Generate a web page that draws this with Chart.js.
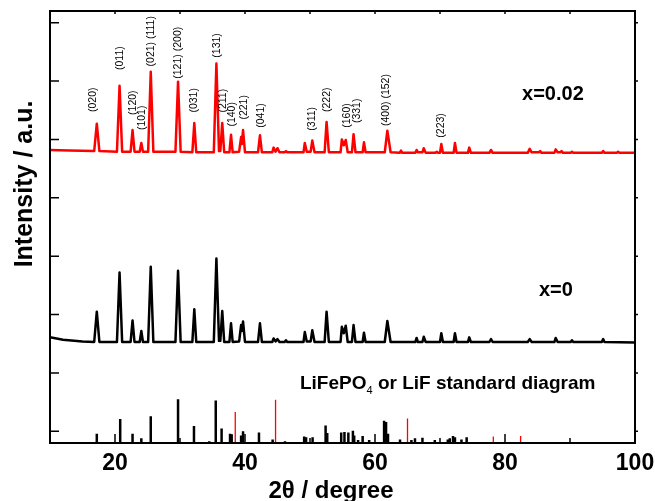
<!DOCTYPE html>
<html><head><meta charset="utf-8">
<script src="https://cdn.jsdelivr.net/npm/chart.js@4.4.0/dist/chart.umd.min.js"></script>
<style>html,body{margin:0;padding:0;background:#fff}#wrap{width:655px;height:501px}</style>
</head><body><div id="wrap"><canvas id="c" width="655" height="501"></canvas></div>
<script>
const FONT = '"Liberation Sans", Arial, Helvetica, sans-serif';

// x = 0.02 pattern (red)
const redTheta = [10.0,13.0,16.8,17.2,17.6,20.3,20.7,21.1,22.4,22.7,23.0,23.8,24.05,24.3,25.1,25.5,25.9,29.3,29.7,30.1,31.9,32.2,32.5,35.2,35.6,36.0,36.2,36.5,36.8,37.6,37.85,38.1,39.1,39.4,39.52,39.7,40.0,42.0,42.3,42.6,44.2,44.4,44.7,45.0,45.3,46.1,46.3,46.5,49.0,49.2,49.5,50.1,50.35,50.7,52.25,52.55,52.9,54.7,54.9,55.2,55.5,55.8,56.45,56.7,57.0,58.1,58.3,58.55,61.5,61.9,62.4,63.8,64.0,64.2,66.2,66.4,66.6,67.3,67.5,67.8,69.3,69.5,69.7,70.0,70.2,70.45,72.1,72.3,72.55,74.3,74.5,74.75,77.6,77.85,78.1,83.5,83.8,84.1,85.2,85.4,85.6,87.6,87.8,88.1,88.5,88.7,88.9,90.1,90.3,90.5,94.9,95.1,95.3,97.2,97.4,97.6,100.0];
const redInt = [4.82,4.81,4.80,5.27,4.80,4.79,5.92,4.79,4.79,5.16,4.79,4.79,4.94,4.79,4.79,6.16,4.79,4.79,5.99,4.79,4.78,5.28,4.78,4.78,6.30,4.80,4.80,5.28,4.78,4.78,5.08,4.78,4.79,5.04,4.92,5.16,4.78,4.78,5.07,4.78,4.78,4.86,4.79,4.85,4.78,4.78,4.80,4.78,4.78,4.94,4.79,4.79,4.98,4.78,4.78,5.30,4.78,4.78,5.00,4.90,4.99,4.78,4.78,5.09,4.78,4.78,4.95,4.78,4.78,5.15,4.78,4.77,4.81,4.77,4.77,4.82,4.78,4.78,4.85,4.77,4.77,4.79,4.77,4.77,4.92,4.77,4.77,4.94,4.77,4.77,4.86,4.77,4.77,4.82,4.77,4.77,4.84,4.78,4.78,4.80,4.77,4.77,4.83,4.78,4.78,4.80,4.77,4.77,4.79,4.77,4.77,4.80,4.77,4.77,4.79,4.77,4.77];

// x = 0 pattern (black)
const blackTheta = [10.0,12.0,15.0,16.8,17.2,17.6,20.3,20.7,21.1,22.4,22.7,23.0,23.8,24.05,24.3,25.1,25.5,25.9,29.3,29.7,30.1,31.9,32.2,32.5,35.2,35.6,36.0,36.2,36.5,36.8,37.6,37.85,38.1,39.1,39.4,39.52,39.7,40.0,42.0,42.3,42.6,44.2,44.4,44.7,45.0,45.3,46.1,46.3,46.5,49.0,49.2,49.5,50.1,50.35,50.7,52.25,52.55,52.9,54.7,54.9,55.2,55.5,55.8,56.45,56.7,57.0,58.1,58.3,58.55,61.5,61.9,62.4,66.2,66.4,66.6,67.3,67.5,67.8,70.0,70.2,70.45,72.1,72.3,72.55,74.3,74.5,74.75,77.6,77.85,78.1,83.5,83.8,84.1,87.6,87.8,88.1,90.1,90.3,90.5,94.9,95.1,95.3,100.0];
const blackInt = [1.61,1.57,1.54,1.53,2.05,1.53,1.53,2.72,1.53,1.53,1.90,1.53,1.53,1.72,1.53,1.53,2.82,1.53,1.53,2.75,1.53,1.53,2.09,1.53,1.53,2.96,1.55,1.55,2.06,1.53,1.53,1.85,1.53,1.54,1.82,1.72,1.88,1.53,1.53,1.85,1.53,1.53,1.59,1.54,1.58,1.53,1.53,1.56,1.53,1.53,1.70,1.54,1.54,1.73,1.53,1.53,2.05,1.53,1.53,1.79,1.68,1.81,1.53,1.53,1.82,1.53,1.53,1.69,1.53,1.53,1.89,1.53,1.53,1.60,1.53,1.53,1.62,1.53,1.53,1.68,1.53,1.53,1.68,1.53,1.53,1.61,1.53,1.53,1.58,1.53,1.53,1.58,1.53,1.53,1.60,1.53,1.53,1.56,1.53,1.53,1.58,1.53,1.52];

// standard diagram sticks
const stdBase = -0.2;
const lfpTheta = [17.2,20.8,22.7,24.05,25.5,29.7,32.15,34.5,35.5,36.4,37.7,37.95,39.4,39.7,42.15,44.25,46.15,49.1,49.4,50.4,52.4,52.65,54.8,55.3,55.9,56.6,56.8,57.4,58.1,59.1,61.4,61.7,62.0,63.85,65.6,66.15,67.3,69.2,71.2,71.5,72.0,72.3,73.3,74.1];
const lfpTop = [-0.04,0.21,-0.04,-0.12,0.26,0.55,0.09,-0.17,0.53,0.05,-0.04,-0.05,-0.07,0.0,-0.02,-0.14,-0.17,-0.09,-0.10,-0.10,0.10,-0.03,-0.02,-0.01,-0.02,0.01,-0.07,-0.15,-0.08,-0.15,0.18,0.16,-0.04,-0.14,-0.15,-0.12,-0.11,-0.15,-0.14,-0.12,-0.08,-0.10,-0.14,-0.10];
const lifTheta = [38.5,44.7,65.0,78.2,82.4];
const lifTop = [0.33,0.54,0.22,-0.09,-0.08];

// peak (hkl) labels
const peakLabels = ['(020)','(011)','(120)','(101)','(021) (111)','(121) (200)','(031)','(131)','(211)','(140)','(221)','(041)','(311)','(222)','(160)','(331)','(400) (152)','(223)'];
const peakLabelTheta = [16.62,20.77,22.77,24.15,25.54,29.69,32.15,35.69,36.62,38.0,39.85,42.46,50.31,52.62,55.65,57.18,61.69,70.11];
const peakLabelY = [5.47,6.19,5.42,5.16,6.25,6.04,5.46,6.40,5.46,5.22,5.34,5.20,5.15,5.47,5.20,5.28,5.23,5.03];

// axis ticks
const xMajorTicks = [20,40,60,80,100];
const xMinorTicks = [10,30,50,70,90];
const xTickLabels = ['20','40','60','80','100'];
const yTicks = [0,1,2,3,4,5,6,7];

function pts(xs, ys){ return xs.map((x,i)=>({x:x, y:ys[i]})); }
function sticks(xs, tops){ const o=[]; xs.forEach((x,i)=>{ o.push({x:x,y:stdBase},{x:x,y:tops[i]},{x:x,y:null}); }); return o; }

const decor = {
  id:'decor',
  afterDatasetsDraw(chart){
    const ctx = chart.ctx, a = chart.chartArea, xs = chart.scales.x, ys = chart.scales.y;
    ctx.save();
    ctx.strokeStyle = '#000'; ctx.lineWidth = 2;
    ctx.strokeRect(a.left, a.top, a.right - a.left, a.bottom - a.top);
    ctx.lineWidth = 1.5;
    ctx.beginPath();
    yTicks.forEach(v=>{ const p = ys.getPixelForValue(v); ctx.moveTo(a.left, p); ctx.lineTo(a.left+9, p); ctx.moveTo(a.right, p); ctx.lineTo(a.right+3, p); });
    xMajorTicks.forEach(v=>{ const p = xs.getPixelForValue(v); ctx.moveTo(p, a.bottom); ctx.lineTo(p, a.bottom-9); ctx.moveTo(p, a.top); ctx.lineTo(p, a.top+3); });
    xMinorTicks.forEach(v=>{ const p = xs.getPixelForValue(v); ctx.moveTo(p, a.bottom); ctx.lineTo(p, a.bottom-5); ctx.moveTo(p, a.top); ctx.lineTo(p, a.top+3); });
    ctx.stroke();
    // x tick labels
    ctx.fillStyle = '#000';
    ctx.font = 'bold 23px ' + FONT; ctx.textAlign = 'center'; ctx.textBaseline = 'alphabetic';
    xMajorTicks.forEach((v,i)=>{ ctx.fillText(xTickLabels[i], xs.getPixelForValue(v), a.bottom + 27); });
    // axis titles
    ctx.font = 'bold 24px ' + FONT;
    ctx.fillText('2\u03b8 / degree', 331, 498);
    ctx.save(); ctx.translate(32, 184); ctx.rotate(-Math.PI/2); ctx.font = 'bold 25px ' + FONT; ctx.fillText('Intensity / a.u.', 0, 0); ctx.restore();
    // peak labels
    ctx.font = '10.5px ' + FONT; ctx.textAlign = 'left'; ctx.textBaseline = 'middle';
    peakLabels.forEach((t,i)=>{
      ctx.save(); ctx.translate(xs.getPixelForValue(peakLabelTheta[i]), ys.getPixelForValue(peakLabelY[i]));
      ctx.rotate(-Math.PI/2); ctx.fillText(t, 0, 0); ctx.restore();
    });
    // series annotations
    ctx.textBaseline = 'alphabetic'; ctx.textAlign = 'left';
    ctx.font = 'bold 20px ' + FONT;
    ctx.fillText('x=0.02', xs.getPixelForValue(82.62), ys.getPixelForValue(5.675));
    ctx.fillText('x=0', xs.getPixelForValue(85.23), ys.getPixelForValue(2.32));
    let lx = xs.getPixelForValue(48.46), ly = ys.getPixelForValue(0.72);
    ctx.font = 'bold 19px ' + FONT;
    ctx.fillText('LiFePO', lx, ly); lx += ctx.measureText('LiFePO').width;
    ctx.font = '11px ' + FONT; ctx.fillText('4', lx, ly + 5); lx += ctx.measureText('4').width;
    ctx.font = 'bold 19px ' + FONT; ctx.fillText(' or LiF standard diagram', lx, ly);
    ctx.restore();
  }
};

new Chart(document.getElementById('c'), {
  type:'line',
  data:{ datasets:[
    {data: pts(redTheta, redInt), borderColor:'#ff0000', borderWidth:2.5},
    {data: pts(blackTheta, blackInt), borderColor:'#000000', borderWidth:2.5},
    {data: sticks(lfpTheta, lfpTop), borderColor:'#000000', borderWidth:2.5, spanGaps:false, borderCapStyle:'butt'},
    {data: sticks(lifTheta, lifTop), borderColor:'#ff0000', borderWidth:1.3, spanGaps:false, borderCapStyle:'butt'}
  ]},
  options:{
    responsive:false, animation:false, events:[],
    layout:{padding:{left:50, right:20, top:11, bottom:58}},
    plugins:{legend:{display:false}, tooltip:{enabled:false}},
    elements:{point:{radius:0}, line:{tension:0, borderJoinStyle:'round', fill:false}},
    scales:{
      x:{type:'linear', min:10, max:100, display:false},
      y:{type:'linear', min:-0.2, max:7.2, display:false}
    }
  },
  plugins:[decor]
});
</script></body></html>
